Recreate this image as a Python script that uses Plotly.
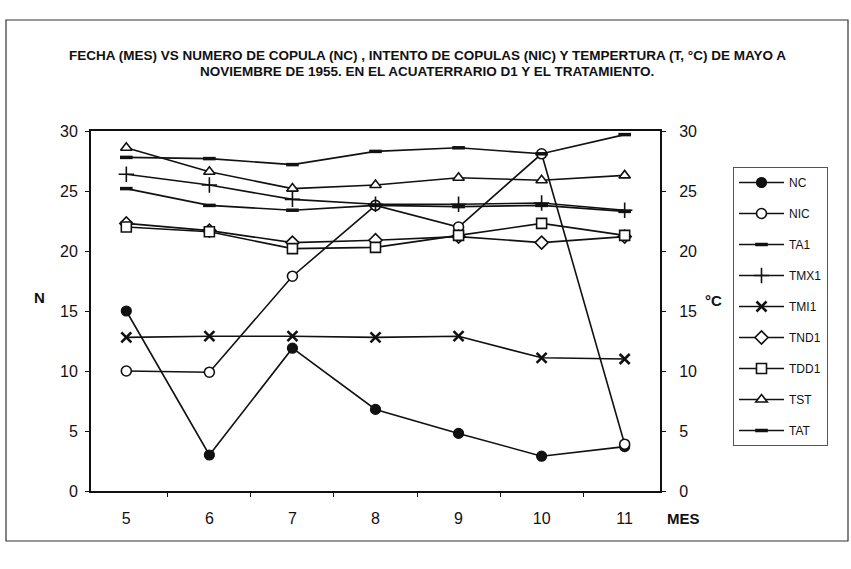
import plotly.graph_objects as go

# Months (May to November)
months = ["5", "6", "7", "8", "9", "10", "11"]

# Counts (left axis, N)
nc = [15.0, 3.0, 11.9, 6.8, 4.8, 2.9, 3.7]
nic = [10.0, 9.9, 17.9, 23.8, 22.0, 28.1, 3.9]

# Temperatures (right axis, °C)
ta1 = [25.2, 23.8, 23.4, 23.8, 23.7, 23.8, 23.3]
tmx1 = [26.4, 25.5, 24.3, 23.9, 23.9, 24.0, 23.4]
tmi1 = [12.8, 12.9, 12.9, 12.8, 12.9, 11.1, 11.0]
tnd1 = [22.3, 21.7, 20.7, 20.9, 21.2, 20.7, 21.2]
tdd1 = [22.0, 21.6, 20.2, 20.3, 21.3, 22.3, 21.3]
tst = [28.6, 26.6, 25.2, 25.5, 26.1, 25.9, 26.3]
tat = [27.8, 27.7, 27.2, 28.3, 28.6, 28.1, 29.7]

y_ticks = [0, 5, 10, 15, 20, 25, 30]

W, H = 851, 569
PL, PR, PT, PB = 91, 660, 131, 491  # plot area in pixels

def px(x):
    return (x - PL) / (PR - PL)

def py(y):
    return (PB - y) / (PB - PT)

FONT = "Liberation Sans, Arial, sans-serif"
BLACK = "#111111"

fig = go.Figure()

def add(name, vals, symbol, size, fill, lw_marker, axis="y2"):
    fig.add_trace(go.Scatter(
        x=months, y=vals, name=name, mode="lines+markers",
        yaxis=axis, legendgroup=name,
        line=dict(color=BLACK, width=1.6),
        marker=dict(symbol=symbol, size=size, color=fill,
                    line=dict(color=BLACK, width=lw_marker)),
    ))

# series in key order; later series are drawn on top
add("NC", nc, "circle", 10, BLACK, 1.2, axis="y")
add("NIC", nic, "circle", 10, "white", 1.6, axis="y")
add("TA1", ta1, "line-ew", 9, BLACK, 3.5)
add("TMX1", tmx1, "cross-thin", 11, BLACK, 1.6)
add("TMI1", tmi1, "x-thin", 10, BLACK, 2.6)
add("TND1", tnd1, "diamond", 10, "white", 1.6)
add("TDD1", tdd1, "square", 10, "white", 1.6)
add("TST", tst, "triangle-up", 10, "white", 1.6)
add("TAT", tat, "line-ew", 9, BLACK, 3.5)

axis_common = dict(
    range=[0, 30], tickvals=y_ticks, showgrid=False, zeroline=False,
    showline=True, linecolor=BLACK, linewidth=2,
    ticks="outside", ticklen=4, tickcolor=BLACK,
    tickfont=dict(family=FONT, size=16, color=BLACK),
)

fig.update_layout(
    width=W, height=H,
    margin=dict(l=PL, r=W - PR, t=PT, b=H - PB),
    paper_bgcolor="white", plot_bgcolor="white",
    showlegend=True,
    legend=dict(
        x=px(733), y=py(167), xanchor="left", yanchor="top",
        bordercolor="#555555", borderwidth=1, bgcolor="white",
        font=dict(family=FONT, size=12, color=BLACK),
        itemwidth=45, tracegroupgap=12, traceorder="grouped",
    ),
    xaxis=dict(
        type="category", tickson="boundaries", showgrid=False,
        showline=True, linecolor=BLACK, linewidth=2, mirror=True,
        ticks="outside", ticklen=4, tickcolor=BLACK,
        tickfont=dict(family=FONT, size=16, color=BLACK),
        ticklabelstandoff=12,
    ),
    yaxis=dict(**axis_common, ticklabelstandoff=4),
    yaxis2=dict(**axis_common, overlaying="y", side="right",
                ticklabelstandoff=10),
)

# outer chart frame
fig.add_shape(type="rect", xref="paper", yref="paper",
              x0=px(6), x1=px(848), y0=py(541), y1=py(20),
              line=dict(color="#333333", width=1.2))

# title, two centred lines
title_lines = [
    "FECHA (MES) VS NUMERO DE COPULA (NC) , INTENTO DE COPULAS (NIC) "
    "Y TEMPERTURA (T, °C) DE MAYO A",
    "NOVIEMBRE DE 1955. EN EL ACUATERRARIO D1 Y EL TRATAMIENTO.",
]
for line, ypix in zip(title_lines, [55, 72]):
    fig.add_annotation(
        x=px(427), y=py(ypix), xref="paper", yref="paper", showarrow=False,
        text=line, xanchor="center", yanchor="middle",
        font=dict(family=FONT, size=13.5, color=BLACK, weight="bold"),
    )

# axis captions
fig.add_annotation(x=px(32), y=py(297), xref="paper", yref="paper",
                   showarrow=False, text="<b>N</b>",
                   font=dict(family=FONT, size=15, color=BLACK))
fig.add_annotation(x=px(724), y=py(300), xref="paper", yref="paper",
                   showarrow=False, text="<b>°C</b>",
                   font=dict(family=FONT, size=15, color=BLACK))
fig.add_annotation(x=px(702), y=py(529), xref="paper", yref="paper",
                   showarrow=False, text="<b>MES</b>",
                   font=dict(family=FONT, size=15, color=BLACK))

fig.write_html("out.html")
